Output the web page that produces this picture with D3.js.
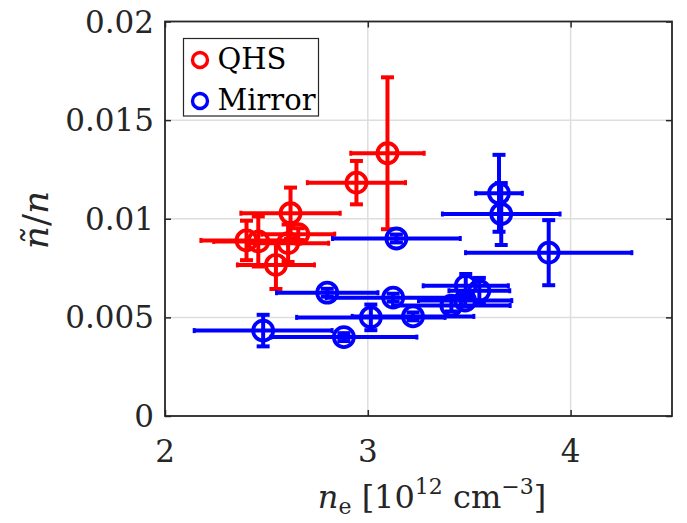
<!DOCTYPE html>
<html>
<head>
<meta charset="utf-8">
<script src="https://cdn.jsdelivr.net/npm/d3@7"></script>
<style>
  body { margin: 0; background: #fff; }
</style>
</head>
<body>
<div class="container"></div>
<script>
// QHS series (x in 1e12 cm^-3, y = n~/n)
const qhsNe     = [2.402, 2.46, 2.547, 2.619, 2.607, 2.657, 2.944, 3.097];
const qhsNeErr  = [0.225, 0.22, 0.19, 0.245, 0.20, 0.18, 0.242, 0.181];
const qhsFluc   = [0.0089, 0.00885, 0.00766, 0.01028, 0.00876, 0.00922, 0.01183, 0.01332];
const qhsFlucErr= [0.0010, 0.00127, 0.00122, 0.0013, 0.00095, 0.0003, 0.0011, 0.00385];

// Mirror series
const mirNe     = [3.141, 3.647, 3.658, 3.892, 3.483, 3.55, 3.412, 3.48, 3.125, 3.223, 2.80, 3.015, 2.484, 2.882];
const mirNeErr  = [0.315, 0.115, 0.29, 0.41, 0.21, 0.15, 0.29, 0.23, 0.33, 0.30, 0.25, 0.366, 0.34, 0.36];
const mirFluc   = [0.0090, 0.01129, 0.01024, 0.00828, 0.0066, 0.00635, 0.0056, 0.00585, 0.0060, 0.00505, 0.00625, 0.0050, 0.00433, 0.0040];
const mirFlucErr= [0.0002, 0.00195, 0.00157, 0.00165, 0.0006, 0.00065, 0.0003, 0.0003, 0.0002, 0.0002, 0.0002, 0.00065, 0.0008, 0.0002];

const xTicks = [2, 3, 4];
const yTicks = [0, 0.005, 0.01, 0.015, 0.02];
const yTickLabels = ["0", "0.005", "0.01", "0.015", "0.02"];

const FONT = "DejaVu Serif";

const width = 687, height = 523;
const margin = {top: 21.5, right: 15, bottom: 107, left: 165};
const plotW = width - margin.left - margin.right;
const plotH = height - margin.top - margin.bottom;

const svg = d3.select(".container").append("svg")
    .attr("width", width)
    .attr("height", height)
    .attr("font-family", FONT);

const x = d3.scaleLinear().domain([2, 4.5]).range([0, plotW]);
const y = d3.scaleLinear().domain([0, 0.02]).range([plotH, 0]);

const graph = svg.append("g")
    .attr("transform", `translate(${margin.left}, ${margin.top})`);

//grid
graph.selectAll(".gx").data(xTicks.filter(t => t > 2)).enter().append("line")
    .attr("x1", d => x(d)).attr("x2", d => x(d))
    .attr("y1", 0).attr("y2", plotH)
    .attr("stroke", "#dedede").attr("stroke-width", 1.5);
graph.selectAll(".gy").data(yTicks.filter(t => t > 0 && t < 0.02)).enter().append("line")
    .attr("y1", d => y(d)).attr("y2", d => y(d))
    .attr("x1", 0).attr("x2", plotW)
    .attr("stroke", "#dedede").attr("stroke-width", 1.5);

//axes (ticks inward, labels drawn separately)
const tickLen = 6;
graph.append("g").attr("transform", `translate(0, ${plotH})`)
    .call(d3.axisBottom(x).tickValues(xTicks).tickSize(-tickLen).tickFormat(""));
graph.append("g")
    .call(d3.axisTop(x).tickValues(xTicks).tickSize(-tickLen).tickFormat(""));
graph.append("g")
    .call(d3.axisLeft(y).tickValues(yTicks).tickSize(-tickLen).tickFormat(""));
graph.append("g").attr("transform", `translate(${plotW}, 0)`)
    .call(d3.axisRight(y).tickValues(yTicks).tickSize(-tickLen).tickFormat(""));
graph.selectAll(".domain").remove();
graph.selectAll(".tick line").attr("stroke", "#262626").attr("stroke-width", 1.5);
graph.append("rect")
    .attr("width", plotW).attr("height", plotH)
    .attr("fill", "none").attr("stroke", "#262626").attr("stroke-width", 1.8);

//tick labels
graph.selectAll(".xl").data(xTicks).enter().append("text")
    .attr("x", d => x(d)).attr("y", plotH + 46)
    .attr("text-anchor", "middle")
    .attr("font-family", FONT).attr("font-size", 31).attr("fill", "#262626")
    .text(d => d);
graph.selectAll(".yl").data(yTicks).enter().append("text")
    .attr("x", -11).attr("y", d => y(d) + 11)
    .attr("text-anchor", "end")
    .attr("font-family", FONT).attr("font-size", 31).attr("fill", "#262626")
    .text((d, i) => yTickLabels[i]);

//error bars + markers
function drawSeries(ne, neErr, fl, flErr, color) {
  const g = graph.append("g").attr("stroke", color).attr("fill", "none");
  const idx = d3.range(ne.length);
  // vertical bars
  g.selectAll(".v").data(idx).enter().append("line")
    .attr("x1", i => x(ne[i])).attr("x2", i => x(ne[i]))
    .attr("y1", i => y(fl[i] - flErr[i])).attr("y2", i => y(fl[i] + flErr[i]))
    .attr("stroke-width", 4);
  // vertical caps
  [-1, 1].forEach(s => {
    g.selectAll(".vc" + s).data(idx).enter().append("line")
      .attr("x1", i => x(ne[i]) - 6.5).attr("x2", i => x(ne[i]) + 6.5)
      .attr("y1", i => y(fl[i] + s * flErr[i])).attr("y2", i => y(fl[i] + s * flErr[i]))
      .attr("stroke-width", 4);
  });
  // horizontal bars
  g.selectAll(".h").data(idx).enter().append("line")
    .attr("x1", i => x(ne[i] - neErr[i])).attr("x2", i => x(ne[i] + neErr[i]))
    .attr("y1", i => y(fl[i])).attr("y2", i => y(fl[i]))
    .attr("stroke-width", 4);
  // horizontal caps (small)
  [-1, 1].forEach(s => {
    g.selectAll(".hc" + s).data(idx).enter().append("line")
      .attr("x1", i => x(ne[i] + s * neErr[i])).attr("x2", i => x(ne[i] + s * neErr[i]))
      .attr("y1", i => y(fl[i]) - 2.5).attr("y2", i => y(fl[i]) + 2.5)
      .attr("stroke-width", 3);
  });
  // markers
  g.selectAll("circle").data(idx).enter().append("circle")
    .attr("cx", i => x(ne[i])).attr("cy", i => y(fl[i]))
    .attr("r", 10)
    .attr("stroke-width", 3.8);
}
drawSeries(qhsNe, qhsNeErr, qhsFluc, qhsFlucErr, "#ff0000");
drawSeries(mirNe, mirNeErr, mirFluc, mirFlucErr, "#0000ff");

//legend
const legend = svg.append("g").attr("transform", "translate(183.5, 38.5)");
legend.append("rect")
    .attr("width", 135).attr("height", 77.5)
    .attr("fill", "#fff").attr("stroke", "#262626").attr("stroke-width", 1.2);
const legItems = [{name: "QHS", color: "#ff0000"}, {name: "Mirror", color: "#0000ff"}];
legItems.forEach((it, i) => {
  legend.append("circle")
    .attr("cx", 16.5).attr("cy", 21.5 + i * 41)
    .attr("r", 7.5)
    .attr("fill", "none").attr("stroke", it.color).attr("stroke-width", 3.4);
  legend.append("text")
    .attr("x", 34).attr("y", 30 + i * 41.5)
    .attr("font-family", FONT).attr("font-size", 29).attr("fill", "#000")
    .text(it.name);
});

//axis titles
const xt = svg.append("text")
    .attr("x", 432).attr("y", 508)
    .attr("text-anchor", "middle")
    .attr("font-family", FONT).attr("font-size", 32).attr("fill", "#262626");
xt.append("tspan").attr("font-style", "italic").text("n");
xt.append("tspan").attr("dy", 6).attr("font-size", 22).text("e");
xt.append("tspan").attr("dy", -6).text(" [10");
xt.append("tspan").attr("dy", -14).attr("font-size", 22).text("12");
xt.append("tspan").attr("dy", 14).text(" cm");
xt.append("tspan").attr("dy", -14).attr("font-size", 22).text("\u22123");
xt.append("tspan").attr("dy", 14).text("]");

const yt = svg.append("text")
    .attr("transform", "translate(48, 220) rotate(-90)")
    .attr("text-anchor", "middle")
    .attr("font-family", FONT).attr("font-size", 36).attr("fill", "#262626");
yt.append("tspan").attr("font-style", "italic").text("\u00f1");
yt.append("tspan").text("/");
yt.append("tspan").attr("font-style", "italic").text("n");
</script>
</body>
</html>
